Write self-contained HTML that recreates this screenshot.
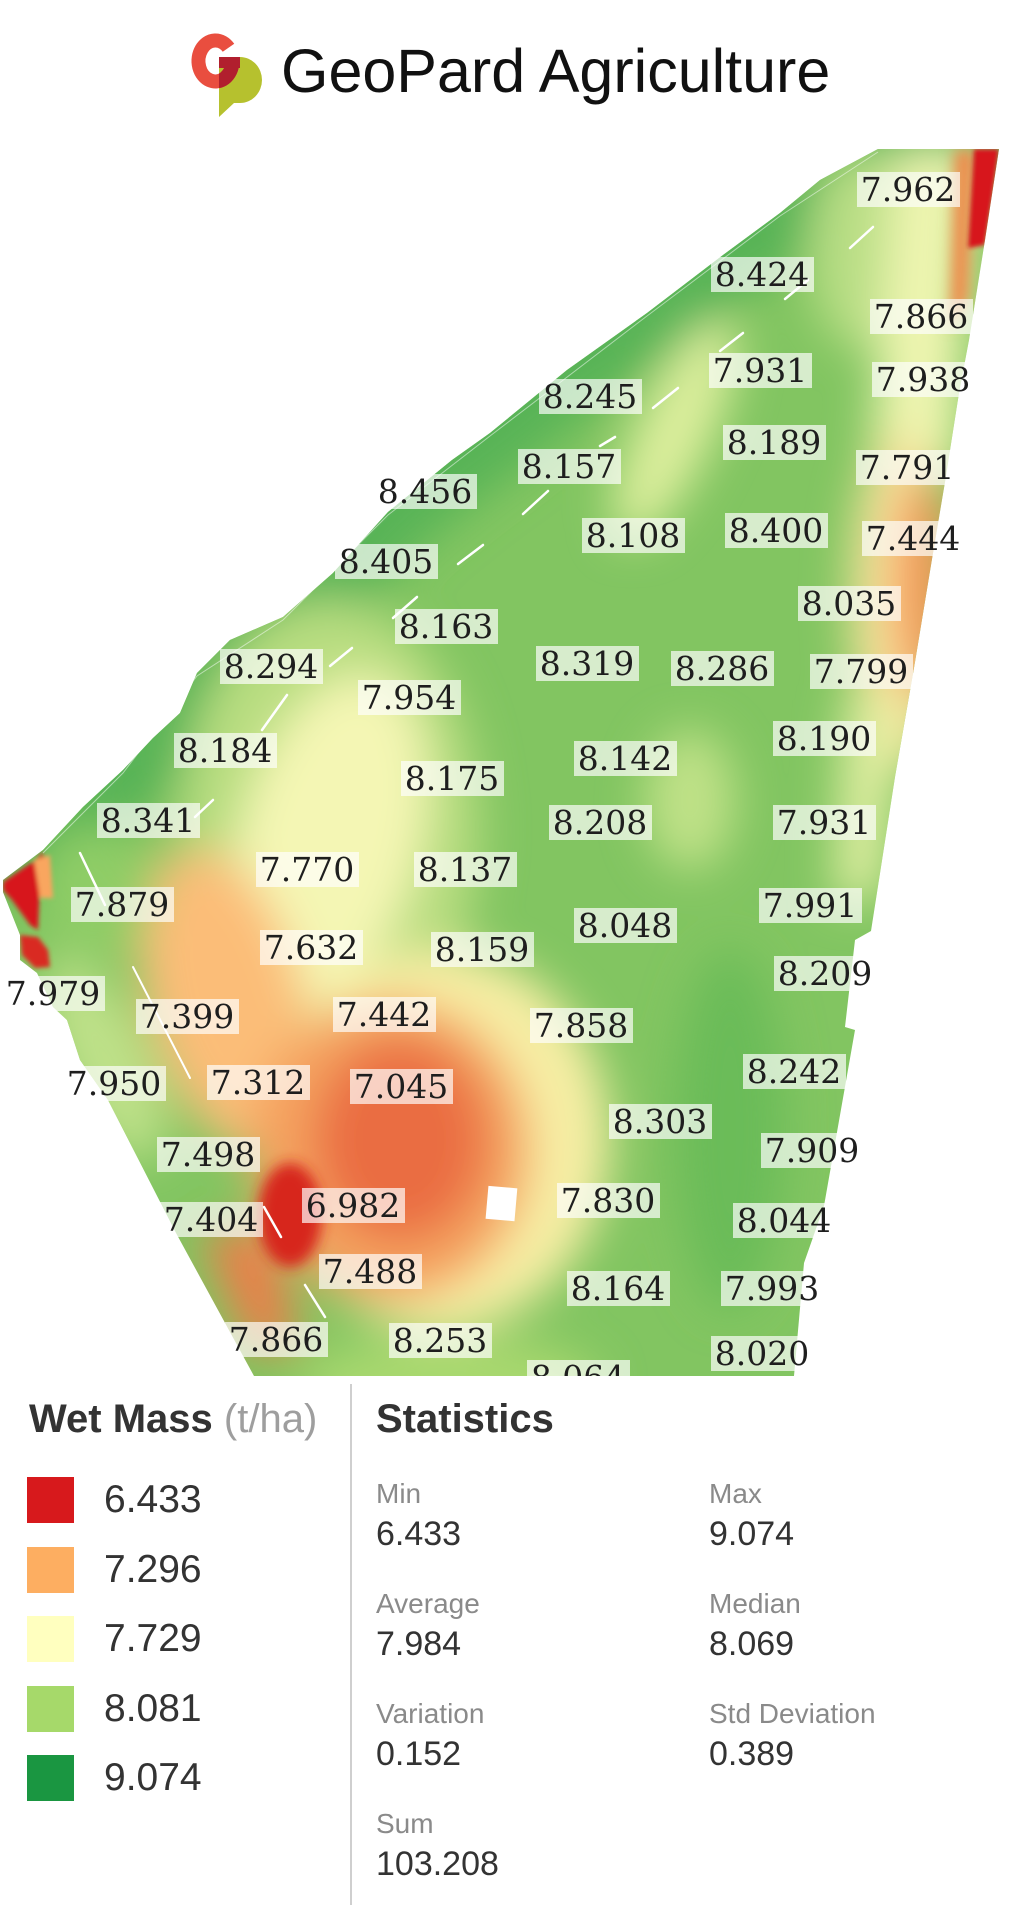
<!DOCTYPE html>
<html><head><meta charset="utf-8">
<style>
html,body{margin:0;padding:0;background:#fff}
body{width:1024px;height:1905px;position:relative;overflow:hidden;font-family:"Liberation Sans",Arial,sans-serif}
.a{position:absolute;white-space:nowrap}
.l{position:absolute;width:103px;height:35px;margin-left:-51.5px;margin-top:-17.5px;background:rgba(255,255,255,0.68);font:33px/36px "DejaVu Serif",serif;color:#1e1e1e;text-align:center;white-space:nowrap}
.sw{position:absolute;left:27px;width:47px;height:46px}
.lv{position:absolute;left:104px;font-size:39px;line-height:39px;color:#333}
.sl{position:absolute;font-size:28px;line-height:28px;color:#8a8a8a}
.sv{position:absolute;font-size:34px;line-height:34px;color:#333}
</style></head><body>

<!-- Logo -->
<svg class="a" style="left:0;top:0" width="300" height="130">
<defs><clipPath id="pc"><path d="M219,57 H240 A22,23 0 0 1 240,103 H234 L219,117 Z"/></clipPath></defs>
<path d="M219,57 H240 A22,23 0 0 1 240,103 H234 L219,117 Z" fill="#b6c12e"/>
<g>
<path d="M228.5,47.8 A17,20.5 0 1 0 232.4,62.8" fill="none" stroke="#e94e3f" stroke-width="14"/>
<rect x="219" y="57" width="21" height="11" fill="#e94e3f"/>
</g>
<g clip-path="url(#pc)">
<path d="M228.5,47.8 A17,20.5 0 1 0 232.4,62.8" fill="none" stroke="#b11f2e" stroke-width="14"/>
<rect x="219" y="57" width="21" height="11" fill="#b11f2e"/>
</g>
</svg>
<div class="a" style="left:281px;top:41px;font-size:61px;line-height:61px;color:#111">GeoPard Agriculture</div>

<!-- Map -->
<svg class="a" style="left:0;top:0" width="1024" height="1376">
<defs>
<clipPath id="fc"><polygon points="878,149 999,149 985,240 969,340 959,393 945,482 932,559 915,662 895,777 871,931 855,940 845,1027 855,1030 824,1206 804,1263 794,1376 254,1376 176,1233 108,1100 80,1060 67,1020 53,1007 37,973 20,960 20,935 3,892 3,880 43,850 83,807 123,770 153,738 180,713 197,673 230,640 283,617 333,573 388,512 452,460 490,433 567,370 647,313 723,255 780,213 820,180"/></clipPath>
<filter id="b" x="-30%" y="-30%" width="160%" height="160%"><feGaussianBlur stdDeviation="22"/></filter>
<filter id="b2" x="-30%" y="-30%" width="160%" height="160%"><feGaussianBlur stdDeviation="7"/></filter>
<filter id="b3" x="-30%" y="-30%" width="160%" height="160%"><feGaussianBlur stdDeviation="2"/></filter>
</defs>
<g clip-path="url(#fc)">
<rect x="0" y="140" width="1024" height="1240" fill="#82c561"/>
<g filter="url(#b)">
 <polyline points="999,130 878,149 820,180 780,213 723,255 647,313 567,370 490,433 452,460 388,512 333,573 283,617 230,640 197,673 180,713 153,738 123,770 83,807 43,850 3,880" fill="none" stroke="#58b456" stroke-width="95"/>
 <ellipse cx="860" cy="250" rx="50" ry="100" fill="#b9de85"/>
 <polygon points="895,150 975,150 955,470 870,470" fill="#eef5b0"/>
 <ellipse cx="900" cy="600" rx="50" ry="170" fill="#f6e39c"/>
 <ellipse cx="922" cy="585" rx="28" ry="115" fill="#f49555"/>
 <polygon points="845,700 900,700 880,900 835,900" fill="#e2efa3"/>
 <ellipse cx="675" cy="430" rx="38" ry="120" transform="rotate(25 675 430)" fill="#dcee9c"/>
 <ellipse cx="690" cy="800" rx="45" ry="70" fill="#bfe187"/>
 <ellipse cx="730" cy="1130" rx="55" ry="180" fill="#6abc59"/>
 <ellipse cx="330" cy="830" rx="150" ry="230" fill="#b8dd80"/>
 <ellipse cx="330" cy="840" rx="90" ry="170" transform="rotate(15 330 840)" fill="#f4f6b4"/>
 <ellipse cx="225" cy="1000" rx="78" ry="155" transform="rotate(-15 225 1000)" fill="#fbbd78"/>
 <ellipse cx="440" cy="1140" rx="170" ry="190" fill="#f7eea4"/>
 <ellipse cx="390" cy="1150" rx="140" ry="150" fill="#f4a15e"/>
 <ellipse cx="400" cy="1140" rx="85" ry="100" fill="#ea6d42"/>
 <polygon points="200,1230 270,1230 300,1350 250,1350" fill="#ee7d48"/>
 <ellipse cx="105" cy="1060" rx="42" ry="110" transform="rotate(-25 105 1060)" fill="#bfe189"/>
 <ellipse cx="95" cy="890" rx="60" ry="65" fill="#8fcd66"/>
 <ellipse cx="450" cy="1385" rx="150" ry="50" fill="#a8d86e"/>
</g>
<g filter="url(#b2)">
 <ellipse cx="290" cy="1215" rx="32" ry="52" fill="#d7261f"/>
 <polygon points="955,150 975,150 968,300 950,330" fill="#f08a4c"/>
</g>
<g filter="url(#b3)">
 <polygon points="974,149 999,149 992,200 985,245 968,248" fill="#d7191c"/>
 <polygon points="3,882 25,867 33,862 43,852 45,870 40,880 38,930 30,925 12,900 3,890" fill="#d7191c"/>
 <polygon points="34,860 50,855 53,898 40,898" fill="#f9a65f"/>
 <polygon points="20,935 38,937 48,950 50,967 35,968 22,955" fill="#d92a22"/>
</g>
<g stroke="#fff" stroke-width="2.5" fill="none" stroke-linecap="round">
 <line x1="352" y1="648" x2="330" y2="666"/>
 <line x1="287" y1="695" x2="262" y2="730"/>
 <line x1="213" y1="800" x2="195" y2="817"/>
 <line x1="483" y1="545" x2="458" y2="564"/>
 <line x1="417" y1="597" x2="393" y2="618"/>
 <line x1="873" y1="227" x2="850" y2="248"/>
 <line x1="808" y1="280" x2="785" y2="299"/>
 <line x1="743" y1="333" x2="720" y2="351"/>
 <line x1="678" y1="388" x2="653" y2="408"/>
 <line x1="615" y1="437" x2="600" y2="446"/>
 <line x1="548" y1="491" x2="523" y2="514"/>
 <line x1="80" y1="853" x2="105" y2="905"/>
 <line x1="133" y1="967" x2="190" y2="1078" stroke-width="2"/>
 <line x1="264" y1="1207" x2="281" y2="1237"/>
 <line x1="305" y1="1285" x2="325" y2="1317"/>
</g>
<polyline points="878,152 780,216 647,316 490,436 388,515 283,620 197,676 123,773 43,853" fill="none" stroke="#fff" stroke-width="1" opacity="0.5"/>
<rect x="487" y="1187" width="29" height="33" fill="#fff" transform="rotate(5 501 1203)"/>
</g>
</svg>

<div class="a" style="left:0;top:0;width:1024px;height:1376px;overflow:hidden">
<div class="l" style="left:908px;top:189px">7.962</div>
<div class="l" style="left:762px;top:274px">8.424</div>
<div class="l" style="left:921px;top:316px">7.866</div>
<div class="l" style="left:760px;top:370px">7.931</div>
<div class="l" style="left:923px;top:379px">7.938</div>
<div class="l" style="left:590px;top:396px">8.245</div>
<div class="l" style="left:774px;top:442px">8.189</div>
<div class="l" style="left:569px;top:466px">8.157</div>
<div class="l" style="left:907px;top:467px">7.791</div>
<div class="l" style="left:425px;top:491px">8.456</div>
<div class="l" style="left:633px;top:535px">8.108</div>
<div class="l" style="left:776px;top:530px">8.400</div>
<div class="l" style="left:913px;top:538px">7.444</div>
<div class="l" style="left:386px;top:561px">8.405</div>
<div class="l" style="left:849px;top:603px">8.035</div>
<div class="l" style="left:446px;top:626px">8.163</div>
<div class="l" style="left:271px;top:666px">8.294</div>
<div class="l" style="left:587px;top:663px">8.319</div>
<div class="l" style="left:722px;top:668px">8.286</div>
<div class="l" style="left:861px;top:671px">7.799</div>
<div class="l" style="left:409px;top:697px">7.954</div>
<div class="l" style="left:225px;top:750px">8.184</div>
<div class="l" style="left:824px;top:738px">8.190</div>
<div class="l" style="left:452px;top:778px">8.175</div>
<div class="l" style="left:625px;top:758px">8.142</div>
<div class="l" style="left:148px;top:820px">8.341</div>
<div class="l" style="left:600px;top:822px">8.208</div>
<div class="l" style="left:824px;top:822px">7.931</div>
<div class="l" style="left:307px;top:869px">7.770</div>
<div class="l" style="left:465px;top:869px">8.137</div>
<div class="l" style="left:122px;top:904px">7.879</div>
<div class="l" style="left:810px;top:905px">7.991</div>
<div class="l" style="left:311px;top:947px">7.632</div>
<div class="l" style="left:482px;top:949px">8.159</div>
<div class="l" style="left:625px;top:925px">8.048</div>
<div class="l" style="left:825px;top:973px">8.209</div>
<div class="l" style="left:53px;top:993px">7.979</div>
<div class="l" style="left:187px;top:1016px">7.399</div>
<div class="l" style="left:384px;top:1014px">7.442</div>
<div class="l" style="left:581px;top:1025px">7.858</div>
<div class="l" style="left:794px;top:1071px">8.242</div>
<div class="l" style="left:114px;top:1083px">7.950</div>
<div class="l" style="left:258px;top:1082px">7.312</div>
<div class="l" style="left:401px;top:1086px">7.045</div>
<div class="l" style="left:660px;top:1121px">8.303</div>
<div class="l" style="left:812px;top:1150px">7.909</div>
<div class="l" style="left:208px;top:1154px">7.498</div>
<div class="l" style="left:608px;top:1200px">7.830</div>
<div class="l" style="left:353px;top:1205px">6.982</div>
<div class="l" style="left:784px;top:1220px">8.044</div>
<div class="l" style="left:211px;top:1219px">7.404</div>
<div class="l" style="left:370px;top:1271px">7.488</div>
<div class="l" style="left:618px;top:1288px">8.164</div>
<div class="l" style="left:772px;top:1288px">7.993</div>
<div class="l" style="left:276px;top:1339px">7.866</div>
<div class="l" style="left:440px;top:1340px">8.253</div>
<div class="l" style="left:762px;top:1353px">8.020</div>
<div class="l" style="left:578px;top:1377px">8.064</div>
</div>

<!-- Legend -->
<div class="a" style="left:29px;top:1399px;font-size:40px;line-height:40px;color:#333"><b>Wet Mass</b> <span style="color:#9e9e9e">(t/ha)</span></div>
<div class="a" style="left:350px;top:1384px;width:2px;height:521px;background:#cfcfcf"></div>
<div class="a" style="left:376px;top:1399px;font-size:40px;line-height:40px;color:#333;font-weight:bold">Statistics</div>

<div class="sw" style="top:1477px;background:#d7191c"></div>
<div class="sw" style="top:1547px;background:#fdae61"></div>
<div class="sw" style="top:1616px;background:#ffffbf"></div>
<div class="sw" style="top:1686px;background:#a6d96a"></div>
<div class="sw" style="top:1755px;background:#1a9641"></div>
<div class="lv" style="top:1480px">6.433</div>
<div class="lv" style="top:1550px">7.296</div>
<div class="lv" style="top:1619px">7.729</div>
<div class="lv" style="top:1689px">8.081</div>
<div class="lv" style="top:1758px">9.074</div>

<div class="sl" style="left:376px;top:1480px">Min</div>
<div class="sv" style="left:376px;top:1517px">6.433</div>
<div class="sl" style="left:709px;top:1480px">Max</div>
<div class="sv" style="left:709px;top:1517px">9.074</div>
<div class="sl" style="left:376px;top:1590px">Average</div>
<div class="sv" style="left:376px;top:1627px">7.984</div>
<div class="sl" style="left:709px;top:1590px">Median</div>
<div class="sv" style="left:709px;top:1627px">8.069</div>
<div class="sl" style="left:376px;top:1700px">Variation</div>
<div class="sv" style="left:376px;top:1737px">0.152</div>
<div class="sl" style="left:709px;top:1700px">Std Deviation</div>
<div class="sv" style="left:709px;top:1737px">0.389</div>
<div class="sl" style="left:376px;top:1810px">Sum</div>
<div class="sv" style="left:376px;top:1847px">103.208</div>
</body></html>
